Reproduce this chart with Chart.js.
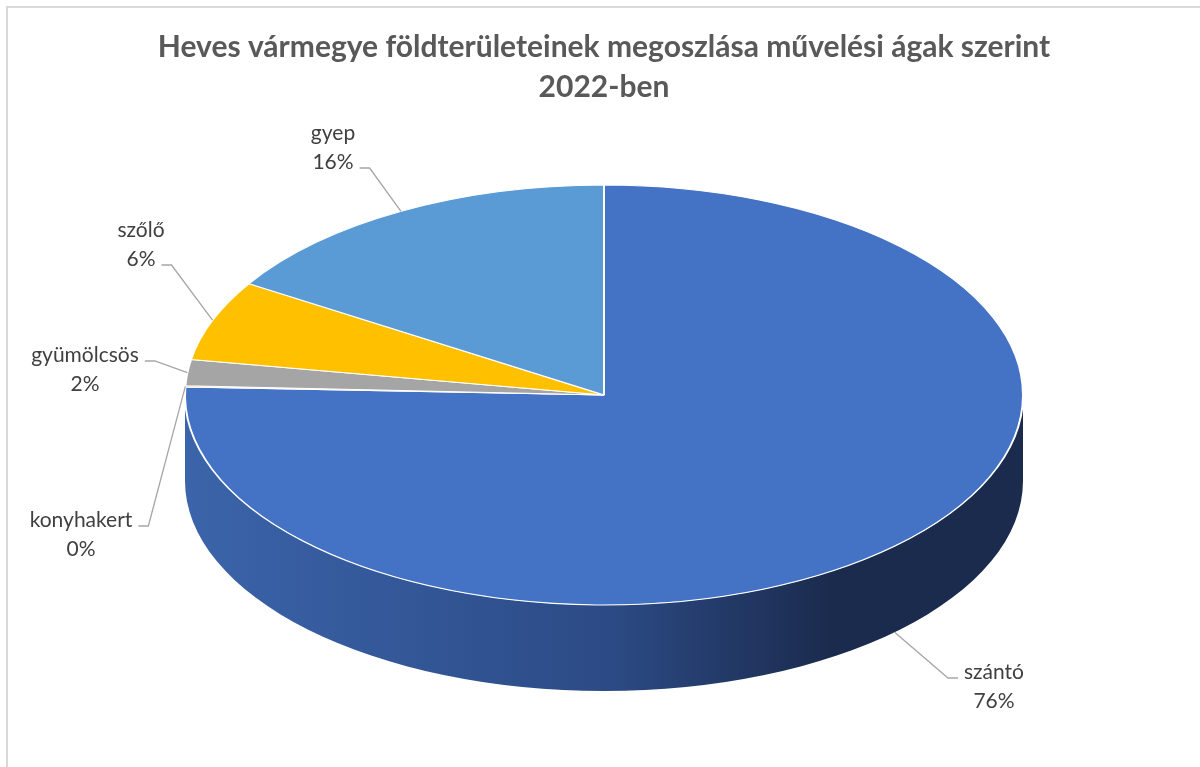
<!DOCTYPE html>
<html>
<head>
<meta charset="utf-8">
<script src="https://cdn.jsdelivr.net/npm/chart.js@4.4.0/dist/chart.umd.min.js"></script>
<style>
    html, body { margin: 0; padding: 0; background: #fff; overflow: hidden; }
    #frame { position: absolute; left: 6px; top: 6px; width: 1300px; height: 900px;
             border-left: 2px solid #d9d9d9; border-top: 2px solid #d9d9d9; }
    #wrap { position: absolute; left: 0; top: 0; width: 1200px; height: 767px; }
</style>
</head>
<body>
<div id="frame"></div>
<div id="wrap"><canvas id="landChart"></canvas></div>
<script>
// Művelési ágak és arányuk (%)
const categories = ['szántó', 'konyhakert', 'gyümölcsös', 'szőlő', 'gyep'];
const shares = [75.6, 0.1, 2.0, 6.2, 16.1];
const sliceColors = ['#4472C4', '#ED7D31', '#A5A5A5', '#FFC000', '#5B9BD5'];
const titleLines = ['Heves vármegye földterületeinek megoszlása művelési ágak szerint', '2022-ben'];
// felirat helye: [x, y első sor közepe, melyik sorhoz fut a vezetővonal]
const labelPos = [[994, 672, 0], [81, 520, 0], [85, 355, 0], [141, 230, 1], [333, 133, 1]];

// 3D-s hatás: oldalfal + döntés, majd feliratok
const pie3d = {
    id: 'pie3d',
    beforeDatasetsDraw(chart, args, opts) {
        const ctx = chart.ctx;
        const arcs = chart.getDatasetMeta(0).data;
        const {x, y, outerRadius} = arcs[0];
        const ry = outerRadius * opts.tilt;

        // oldalfal csak ott látszik, ahol a perem felénk néz (0..PI)
        arcs.forEach((arc, i) => {
            const a0 = Math.max(arc.startAngle, 0);
            const a1 = Math.min(arc.endAngle, Math.PI);
            if (a1 <= a0) return;
            const grad = ctx.createLinearGradient(x - outerRadius, 0, x + outerRadius, 0);
            grad.addColorStop(0, '#3b64aa');
            grad.addColorStop(0.5, '#2c4b86');
            grad.addColorStop(0.77, '#1b2b4e');
            grad.addColorStop(1, '#1b2b4e');
            ctx.save();
            ctx.beginPath();
            ctx.ellipse(x, y, outerRadius, ry, 0, a0, a1, false);
            ctx.ellipse(x, y + opts.depth, outerRadius, ry, 0, a1, a0, true);
            ctx.closePath();
            ctx.fillStyle = grad;
            ctx.fill();
            ctx.restore();
        });

        ctx.save();
        ctx.translate(x, y);
        ctx.scale(1, opts.tilt);
        ctx.translate(-x, -y);
    },
    afterDatasetsDraw(chart, args, opts) {
        const ctx = chart.ctx;
        ctx.restore();

        const arcs = chart.getDatasetMeta(0).data;
        const total = shares.reduce((a, b) => a + b, 0);
        const lh = 29;
        ctx.save();
        ctx.font = '21px Lato';
        ctx.textAlign = 'center';
        ctx.textBaseline = 'middle';
        arcs.forEach((arc, i) => {
            const m = (arc.startAngle + arc.endAngle) / 2;
            const px = arc.x + arc.outerRadius * Math.cos(m);
            let py = arc.y + arc.outerRadius * opts.tilt * Math.sin(m);
            if (Math.sin(m) > 0) py += opts.depth;

            const [tx, ty, line] = labelPos[i];
            const lines = [categories[i], Math.round(shares[i] / total * 100) + '%'];
            const w = ctx.measureText(lines[line]).width;
            const dir = px > tx ? 1 : -1;
            const ax = tx + dir * (w / 2 + 6);
            const ay = ty + line * lh + 6;

            ctx.strokeStyle = '#a6a6a6';
            ctx.lineWidth = 1.3;
            ctx.beginPath();
            ctx.moveTo(ax, ay);
            ctx.lineTo(ax + dir * 10, ay);
            ctx.lineTo(px, py);
            ctx.stroke();

            ctx.fillStyle = '#404040';
            lines.forEach((t, k) => ctx.fillText(t, tx, ty + k * lh));
        });
        ctx.restore();
    }
};

const ctx = document.getElementById('landChart').getContext('2d');
const chart = new Chart(ctx, {
    type: 'pie',
    data: {
        labels: categories,
        datasets: [{
            data: shares,
            backgroundColor: sliceColors,
            borderColor: '#ffffff',
            borderWidth: 2,
            clip: false
        }]
    },
    options: {
        responsive: true,
        maintainAspectRatio: false,
        animation: false,
        radius: 419,
        layout: {
            padding: { left: 8, right: 0, top: 0, bottom: 104 }
        },
        plugins: {
            legend: { display: false },
            tooltip: { enabled: false },
            title: {
                display: true,
                text: titleLines,
                color: '#595959',
                font: { family: 'Lato', size: 30, weight: 'bold', lineHeight: '40px' },
                padding: { top: 27, bottom: 20 }
            },
            pie3d: { tilt: 0.501, depth: 86 }
        }
    },
    plugins: [pie3d]
});
</script>
</body>
</html>
